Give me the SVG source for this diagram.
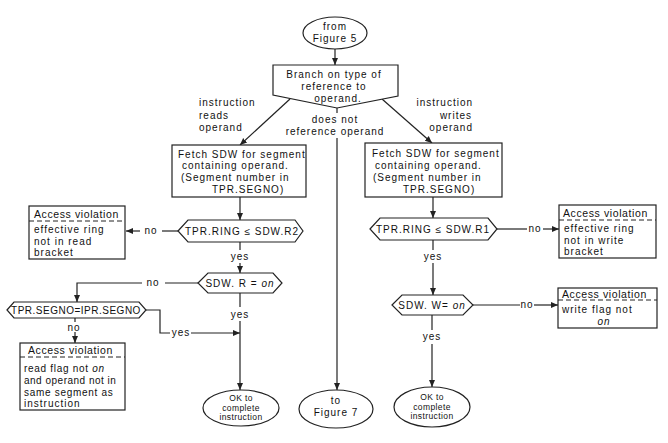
<svg xmlns="http://www.w3.org/2000/svg" width="668" height="443" viewBox="0 0 668 443">
<style>
.s{fill:none;stroke:#222;stroke-width:1.2}
.b{fill:#fff;stroke:#222;stroke-width:1.2}
.d{stroke:#222;stroke-width:1;stroke-dasharray:5,3}
text{font-family:"Liberation Sans",Arial,sans-serif;font-size:10px;letter-spacing:1px;fill:#111}
.m{text-anchor:middle}
.e{text-anchor:end}
.t{font-size:10.5px;letter-spacing:0.6px}
.sm{font-size:8.5px;letter-spacing:0.4px}
.i{font-style:italic}
</style>
<defs>
<marker id="ah" markerWidth="8" markerHeight="8" refX="7" refY="4" orient="auto" markerUnits="userSpaceOnUse">
<path d="M0,1 L7,4 L0,7 Z" fill="#222"/>
</marker>
</defs>
<rect width="668" height="443" fill="#fff"/>

<g id="connectors">
<path class="s" d="M335,49 V65" marker-end="url(#ah)"/>
<path class="s" d="M290,99 L240,145" marker-end="url(#ah)"/>
<path class="s" d="M382,99 L432,143" marker-end="url(#ah)"/>
<path class="s" d="M337,108 V113"/>
<path class="s" d="M337,138 V390" marker-end="url(#ah)"/>
<path class="s" d="M240,197 V220" marker-end="url(#ah)"/>
<path class="s" d="M178,231 H162"/>
<path class="s" d="M140,231 H126" marker-end="url(#ah)"/>
<path class="s" d="M240,242 V250"/>
<path class="s" d="M240,263 V273" marker-end="url(#ah)"/>
<path class="s" d="M198,283 H165"/>
<path class="s" d="M142,283 H77 V302" marker-end="url(#ah)"/>
<path class="s" d="M146,310 H160 V333 H170"/>
<path class="s" d="M191,333 H240" marker-end="url(#ah)"/>
<path class="s" d="M240,293 V307"/>
<path class="s" d="M240,321 V390" marker-end="url(#ah)"/>
<path class="s" d="M75,318 V322"/>
<path class="s" d="M75,332 V343" marker-end="url(#ah)"/>
<path class="s" d="M433,197 V218" marker-end="url(#ah)"/>
<path class="s" d="M497,229 H527"/>
<path class="s" d="M543,229 H559" marker-end="url(#ah)"/>
<path class="s" d="M433,240 V250"/>
<path class="s" d="M433,263 V295" marker-end="url(#ah)"/>
<path class="s" d="M473,305 H520"/>
<path class="s" d="M534,305 H558" marker-end="url(#ah)"/>
<path class="s" d="M432,315 V330"/>
<path class="s" d="M432,344 V387" marker-end="url(#ah)"/>
<text x="199" y="106">instruction</text>
<text x="199" y="119">reads</text>
<text x="199" y="131">operand</text>
<text class="e" x="473" y="106">instruction</text>
<text class="e" x="472" y="119">writes</text>
<text class="e" x="473" y="131">operand</text>
<text class="m" x="335" y="123">does not</text>
<text class="m" x="335" y="135">reference operand</text>
<text class="m" x="151" y="234">no</text>
<text class="m" x="240" y="260">yes</text>
<text class="m" x="153" y="286">no</text>
<text class="m" x="181" y="336">yes</text>
<text class="m" x="240" y="318">yes</text>
<text class="m" x="74" y="331">no</text>
<text class="m" x="535" y="232">no</text>
<text class="m" x="433" y="260">yes</text>
<text class="m" x="527" y="308">no</text>
<text class="m" x="432" y="340">yes</text>
</g>

<g id="start">
<ellipse class="b" cx="335" cy="33" rx="32" ry="16"/>
<text class="m" x="335" y="30">from</text>
<text class="m" x="335" y="42">Figure 5</text>
</g>

<g id="branch">
<path class="b" d="M273,65 H398 V96 L337,108 L273,95 Z"/>
<text class="m" x="334" y="78">Branch on type of</text>
<text class="m" x="334" y="90">reference to</text>
<text class="m" x="338" y="102">operand.</text>
</g>

<g id="fetch-read">
<rect class="b" x="172" y="145" width="134" height="52"/>
<text x="178" y="158">Fetch SDW for segment</text>
<text x="182" y="169">containing operand.</text>
<text x="181" y="181">(Segment number in</text>
<text x="212" y="193">TPR.SEGNO)</text>
</g>

<g id="fetch-write">
<rect class="b" x="365" y="143" width="137" height="54"/>
<text x="372" y="157">Fetch SDW for segment</text>
<text x="375" y="169">containing operand.</text>
<text x="373" y="181">(Segment number in</text>
<text x="403" y="193">TPR.SEGNO)</text>
</g>

<g id="ring-r2">
<path class="b" d="M178,231 L188,220 H295 L303,231 L295,242 H188 Z"/>
<text class="m" x="242" y="235">TPR.RING ≤ SDW.R2</text>
</g>

<g id="ring-r1">
<path class="b" d="M370,229 L380,218 H488 L497,229 L488,240 H380 Z"/>
<text class="m" x="433" y="233">TPR.RING ≤ SDW.R1</text>
</g>

<g id="sdw-r">
<path class="b" d="M198,283 L208,273 H273 L282,283 L273,293 H208 Z"/>
<text class="m" x="240" y="287">SDW. R = <tspan class="i">on</tspan></text>
</g>

<g id="segno">
<path class="b" d="M7,310 L14,302 H139 L146,310 L139,318 H14 Z"/>
<text class="m" x="76" y="314" style="letter-spacing:0.5px">TPR.SEGNO=IPR.SEGNO</text>
</g>

<g id="sdw-w">
<path class="b" d="M392,305 L402,295 H463 L473,305 L463,315 H402 Z"/>
<text class="m" x="432" y="309">SDW. W= <tspan class="i">on</tspan></text>
</g>

<g id="viol-read-ring">
<rect class="b" x="29" y="206" width="96" height="53"/>
<line class="d" x1="29" y1="221" x2="125" y2="221"/>
<text class="t" x="34" y="218">Access violation</text>
<text x="34" y="233">effective ring</text>
<text x="34" y="245">not in read</text>
<text x="34" y="256">bracket</text>
</g>

<g id="viol-write-ring">
<rect class="b" x="559" y="205" width="97" height="53"/>
<line class="d" x1="559" y1="220" x2="656" y2="220"/>
<text class="t" x="563" y="217">Access violation</text>
<text x="564" y="232">effective ring</text>
<text x="564" y="244">not in write</text>
<text x="564" y="255">bracket</text>
</g>

<g id="viol-read-flag">
<rect class="b" x="20" y="343" width="105" height="67"/>
<line class="d" x1="20" y1="357" x2="125" y2="357"/>
<text class="t" x="28" y="354">Access violation</text>
<text x="24" y="372" style="letter-spacing:0.7px">read flag not <tspan class="i">on</tspan></text>
<text x="24" y="384" style="letter-spacing:0.5px">and operand not in</text>
<text x="24" y="396" style="letter-spacing:0.7px">same segment as</text>
<text x="24" y="407">instruction</text>
</g>

<g id="viol-write-flag">
<rect class="b" x="558" y="288" width="99" height="40"/>
<line class="d" x1="558" y1="300" x2="657" y2="300"/>
<text class="t" x="562" y="298">Access violation</text>
<text x="562" y="313">write flag not</text>
<text class="m i" x="604" y="325">on</text>
</g>

<g id="ok-read">
<ellipse class="b" cx="241" cy="408" rx="38" ry="18"/>
<text class="m sm" x="241" y="401">OK to</text>
<text class="m sm" x="241" y="410.5">complete</text>
<text class="m sm" x="241" y="420">instruction</text>
</g>

<g id="to-fig7">
<ellipse class="b" cx="336" cy="409" rx="37" ry="19"/>
<text class="m" x="336" y="404">to</text>
<text class="m" x="336" y="416">Figure 7</text>
</g>

<g id="ok-write">
<ellipse class="b" cx="432" cy="407" rx="38" ry="20"/>
<text class="m sm" x="432" y="400">OK to</text>
<text class="m sm" x="432" y="409.5">complete</text>
<text class="m sm" x="432" y="419">instruction</text>
</g>
</svg>
